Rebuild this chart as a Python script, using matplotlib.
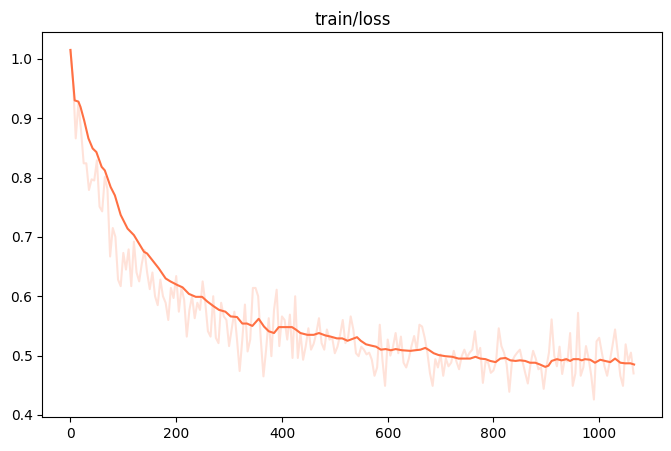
import numpy as np
import matplotlib
matplotlib.use('Agg')
import matplotlib.pyplot as plt

# raw loss, logged every 5 steps
steps = list(range(0, 1070, 5))
loss = [
    1.015, 0.960, 0.866, 0.925, 0.880, 0.824, 0.824, 0.779, 0.797, 0.795,
    0.829, 0.751, 0.743, 0.801, 0.780, 0.667, 0.715, 0.700, 0.628, 0.617,
    0.673, 0.645, 0.679, 0.617, 0.692, 0.640, 0.625, 0.655, 0.678, 0.640,
    0.612, 0.640, 0.600, 0.585, 0.628, 0.600, 0.589, 0.560, 0.614, 0.597,
    0.634, 0.574, 0.614, 0.594, 0.532, 0.577, 0.600, 0.563, 0.589, 0.577,
    0.625, 0.589, 0.541, 0.532, 0.600, 0.530, 0.521, 0.589, 0.566, 0.560,
    0.516, 0.545, 0.574, 0.527, 0.474, 0.527, 0.586, 0.507, 0.527, 0.614,
    0.614, 0.600, 0.527, 0.465, 0.510, 0.563, 0.499, 0.577, 0.611, 0.516,
    0.566, 0.560, 0.527, 0.569, 0.496, 0.600, 0.496, 0.538, 0.493, 0.516,
    0.546, 0.510, 0.520, 0.538, 0.563, 0.521, 0.510, 0.544, 0.527, 0.530,
    0.504, 0.515, 0.535, 0.560, 0.521, 0.530, 0.566, 0.544, 0.504, 0.499,
    0.515, 0.510, 0.502, 0.505, 0.493, 0.466, 0.480, 0.552, 0.493, 0.449,
    0.527, 0.500, 0.515, 0.538, 0.504, 0.532, 0.488, 0.480, 0.495, 0.516,
    0.533, 0.510, 0.552, 0.549, 0.530, 0.505, 0.470, 0.449, 0.494, 0.480,
    0.502, 0.466, 0.495, 0.482, 0.488, 0.508, 0.490, 0.477, 0.499, 0.510,
    0.497, 0.505, 0.510, 0.541, 0.500, 0.513, 0.454, 0.490, 0.488, 0.471,
    0.475, 0.490, 0.546, 0.516, 0.505, 0.485, 0.439, 0.490, 0.499, 0.505,
    0.510, 0.490, 0.471, 0.453, 0.485, 0.508, 0.495, 0.477, 0.480, 0.444,
    0.480, 0.505, 0.561, 0.500, 0.482, 0.515, 0.469, 0.495, 0.490, 0.538,
    0.449, 0.470, 0.572, 0.466, 0.480, 0.516, 0.495, 0.466, 0.426, 0.524,
    0.530, 0.505, 0.482, 0.466, 0.490, 0.516, 0.544, 0.505, 0.466, 0.449,
    0.519, 0.490, 0.505, 0.470,
]

# smoothed curve
smooth_steps = [0, 8, 15, 19, 26, 34, 42, 49, 59, 65, 76, 84, 95, 108, 120,
                139, 145, 167, 180, 189, 202, 212, 224, 237, 249, 259, 271,
                281, 293, 303, 315, 325, 334, 344, 356, 366, 375, 385, 394,
                406, 419, 426, 435, 448, 460, 470, 482, 492, 504, 514, 524,
                533, 542, 549, 559, 568, 578, 587, 596, 606, 615, 627, 643,
                652, 662, 671, 677, 687, 696, 709, 722, 734, 756, 766, 775,
                785, 794, 804, 813, 823, 832, 842, 850, 860, 869, 879, 888,
                898, 904, 910, 920, 929, 938, 945, 951, 961, 967, 973, 983,
                992, 1002, 1011, 1021, 1030, 1040, 1049, 1059, 1066]
smooth_loss = [1.015, 0.930, 0.928, 0.919, 0.896, 0.866, 0.849, 0.843, 0.818,
               0.812, 0.784, 0.770, 0.737, 0.714, 0.703, 0.675, 0.672, 0.647,
               0.630, 0.625, 0.619, 0.615, 0.604, 0.599, 0.599, 0.591, 0.583,
               0.577, 0.574, 0.566, 0.565, 0.554, 0.554, 0.550, 0.562, 0.549,
               0.541, 0.538, 0.548, 0.548, 0.548, 0.544, 0.538, 0.535, 0.535,
               0.538, 0.534, 0.532, 0.529, 0.529, 0.525, 0.528, 0.531, 0.525,
               0.519, 0.517, 0.515, 0.510, 0.511, 0.509, 0.511, 0.509, 0.508,
               0.509, 0.510, 0.513, 0.510, 0.504, 0.501, 0.499, 0.498, 0.495,
               0.495, 0.498, 0.495, 0.494, 0.491, 0.489, 0.495, 0.496, 0.492,
               0.491, 0.492, 0.491, 0.488, 0.488, 0.485, 0.481, 0.483, 0.491,
               0.494, 0.492, 0.494, 0.491, 0.494, 0.494, 0.492, 0.494, 0.493,
               0.488, 0.493, 0.491, 0.489, 0.495, 0.488, 0.487, 0.487, 0.485]

color = '#ff7043'

fig = plt.figure(figsize=(6.71, 4.51), dpi=100)
ax = fig.add_subplot(111)
fig.subplots_adjust(left=0.063, right=0.987, bottom=0.0754, top=0.928)

ax.plot(steps, loss, color=color, alpha=0.2, linewidth=1.5)
ax.plot(smooth_steps, smooth_loss, color=color, linewidth=1.5)

ax.set_title('train/loss')
plt.savefig('out.png', dpi=100)
